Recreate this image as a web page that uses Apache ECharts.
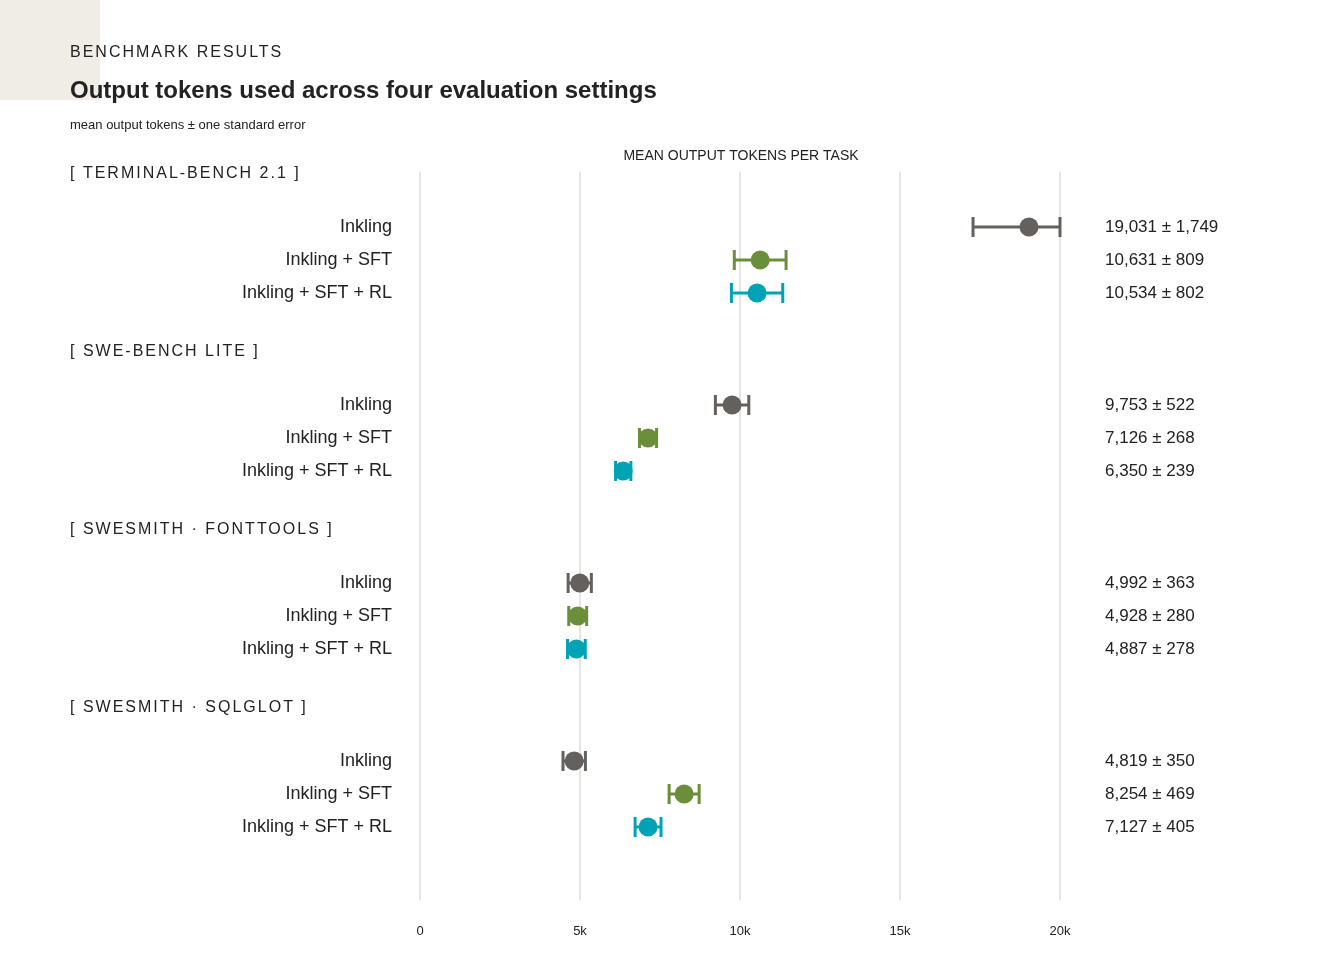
<!DOCTYPE html>
<html>
<head>
<meta charset="utf-8">
<script src="https://cdn.jsdelivr.net/npm/echarts@6/dist/echarts.min.js"></script>
<style>
html,body{margin:0;padding:0;background:#fff;}
#chart{width:1320px;height:970px;}
</style>
</head>
<body>
<div id="chart"></div>
<script>
var groups = ['[ TERMINAL-BENCH 2.1 ]', '[ SWE-BENCH LITE ]', '[ SWESMITH · FONTTOOLS ]', '[ SWESMITH · SQLGLOT ]'];
var models = ['Inkling', 'Inkling + SFT', 'Inkling + SFT + RL'];
var means = [
  [19031, 10631, 10534],
  [9753, 7126, 6350],
  [4992, 4928, 4887],
  [4819, 8254, 7127]
];
var errors = [
  [1749, 809, 802],
  [522, 268, 239],
  [363, 280, 278],
  [350, 469, 405]
];
var xTicks = [0, 5000, 10000, 15000, 20000];
var xMin = 0, xMax = 20000;
var colors = ['#63605d', '#6b8e3a', '#00a2b5'];
var kicker = 'BENCHMARK RESULTS';

var FONT = "'Liberation Sans', Arial, Helvetica, sans-serif";

// letter-spaced headings: canvas letterSpacing only for these strings
var spaced = {}; spaced[kicker] = 1; groups.forEach(function(g){ spaced[g] = 1; });
(function(){
  var P = CanvasRenderingContext2D.prototype, orig = P.fillText;
  P.fillText = function(t){
    if ('letterSpacing' in this) {
      var want = spaced[t] ? '2px' : '0px';
      if (this.letterSpacing !== want) {
        var f = this.font;
        this.letterSpacing = want;
        this.font = f;
      }
    }
    return orig.apply(this, arguments);
  };
})();

var chart = echarts.init(document.getElementById('chart'));
function fmt(v){ return v.toLocaleString('en-US'); }

var grids = [{ left: 420, width: 640, top: 172, height: 728 }];
var xAxes = [{
  gridIndex: 0, type: 'value', min: xMin, max: xMax, interval: 5000,
  axisLine: { show: false }, axisTick: { show: false },
  splitLine: { show: true, lineStyle: { color: '#e8e4df', width: 2 } },
  axisLabel: { margin: 25, fontSize: 13, color: '#222', fontFamily: FONT,
    formatter: function(v){ return xTicks.indexOf(v) < 0 ? '' : (v === 0 ? '0' : (v/1000) + 'k'); } }
}];
var yAxes = [{ gridIndex: 0, type: 'value', show: false }];
var series = [];
var graphics = [
  { type: 'rect', left: 0, top: 0, shape: { width: 100, height: 100 }, style: { fill: '#f0ece6' }, z: -10 },
  { type: 'text', x: 70, y: 53, style: { text: kicker, fontSize: 16, fill: '#222', fontFamily: FONT, verticalAlign: 'middle' } },
  { type: 'text', x: 70, y: 91, style: { text: 'Output tokens used across four evaluation settings', fontSize: 24, fontWeight: 'bold', fill: '#222', fontFamily: FONT, verticalAlign: 'middle' } },
  { type: 'text', x: 70, y: 125, style: { text: 'mean output tokens ± one standard error', fontSize: 13, fill: '#222', fontFamily: FONT, verticalAlign: 'middle' } },
  { type: 'text', x: 741, y: 156, style: { text: 'MEAN OUTPUT TOKENS PER TASK', fontSize: 14, fill: '#222', fontFamily: FONT, align: 'center', verticalAlign: 'middle' } }
];

groups.forEach(function(g, i){
  var gi = i + 1;
  var top = 210.5 + 178 * i;
  grids.push({ left: 420, width: 640, top: top, height: 99 });
  graphics.push({ type: 'text', x: 70, y: top - 36.5, style: { text: g, fontSize: 16, fill: '#222', fontFamily: FONT, verticalAlign: 'middle' } });
  xAxes.push({ gridIndex: gi, type: 'value', min: xMin, max: xMax, show: false });
  yAxes.push({
    gridIndex: gi, type: 'category', data: models, inverse: true, position: 'left',
    axisLine: { show: false }, axisTick: { show: false }, splitLine: { show: false },
    axisLabel: { margin: 28, fontSize: 18, color: '#222', fontFamily: FONT }
  });
  yAxes.push({
    gridIndex: gi, type: 'category', inverse: true, position: 'right',
    data: means[i].map(function(m, k){ return fmt(m) + ' ± ' + fmt(errors[i][k]); }),
    axisLine: { show: false }, axisTick: { show: false }, splitLine: { show: false },
    axisLabel: { margin: 45, fontSize: 17, color: '#222', fontFamily: FONT, align: 'left' }
  });
  var data = means[i].map(function(m, k){ return [m, k, errors[i][k]]; });
  series.push({
    type: 'custom', xAxisIndex: gi, yAxisIndex: gi * 2 - 1,
    data: data, z: 5,
    renderItem: function(params, api){
      var m = api.value(0), k = api.value(1), e = api.value(2);
      var lo = Math.max(xMin, m - e), hi = Math.min(xMax, m + e);
      var p = api.coord([m, k]);
      var pl = api.coord([lo, k]);
      var ph = api.coord([hi, k]);
      var c = colors[k];
      var lw = 3, capH = 10;
      return { type: 'group', children: [
        { type: 'line', shape: { x1: pl[0], y1: p[1], x2: ph[0], y2: p[1] }, style: { stroke: c, lineWidth: lw } },
        { type: 'line', shape: { x1: pl[0], y1: p[1] - capH, x2: pl[0], y2: p[1] + capH }, style: { stroke: c, lineWidth: lw } },
        { type: 'line', shape: { x1: ph[0], y1: p[1] - capH, x2: ph[0], y2: p[1] + capH }, style: { stroke: c, lineWidth: lw } },
        { type: 'circle', shape: { cx: p[0], cy: p[1], r: 9.5 }, style: { fill: c } }
      ]};
    }
  });
});

chart.setOption({
  backgroundColor: '#ffffff',
  animation: false,
  textStyle: { fontFamily: FONT },
  grid: grids, xAxis: xAxes, yAxis: yAxes, series: series, graphic: graphics
});
</script>
</body>
</html>
